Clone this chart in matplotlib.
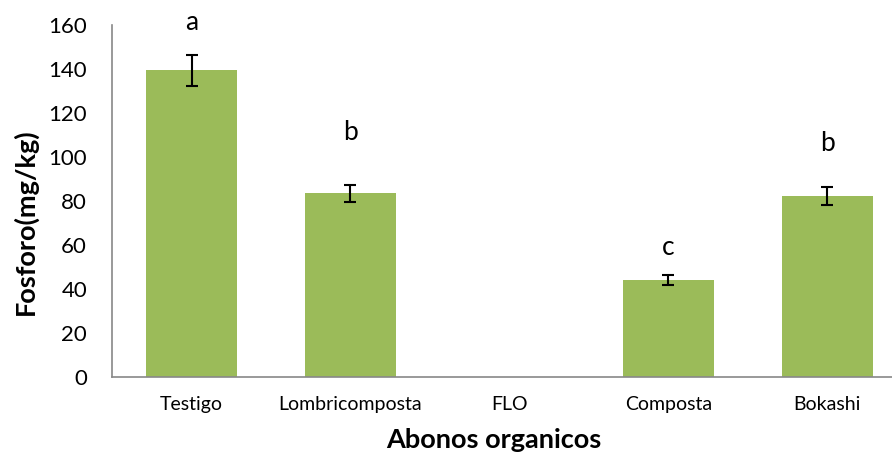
import matplotlib.pyplot as plt

categorias = ['Testigo', 'Lombricomposta', 'FLO', 'Composta', 'Bokashi']
fosforo = [139.5, 83.5, 0, 44.2, 82.3]
error = [7.0, 4.0, 0, 2.2, 4.0]
letras = ['a', 'b', '', 'c', 'b']
altura_letras = [161, 111, 0, 59, 106]

plt.rcParams['font.family'] = ['Lato', 'DejaVu Sans']

fig = plt.figure(figsize=(8.92, 4.55), dpi=100)
ax = fig.add_axes([0.1256, 0.1714, 0.891, 0.7736])

x = range(len(categorias))
ax.bar(x, fosforo, width=0.57, color='#9BBB59')
for i in x:
    if error[i] > 0:
        ax.errorbar(i, fosforo[i], yerr=error[i], fmt='none', ecolor='black',
                    elinewidth=1.5, capsize=4.5, capthick=1.5)
    if letras[i]:
        ax.text(i, altura_letras[i], letras[i], ha='center', va='center', fontsize=19)

ax.set_xlim(-0.5, 4.5)
ax.set_ylim(0, 160)
ax.set_yticks(range(0, 161, 20))
ax.set_xticks(list(x))
ax.set_xticklabels(categorias, fontsize=14)
ax.tick_params(axis='y', labelsize=16, length=0, pad=18)
ax.tick_params(axis='x', length=0, pad=14)

for s in ['top', 'right']:
    ax.spines[s].set_visible(False)
for s in ['left', 'bottom']:
    ax.spines[s].set_color('#888888')
    ax.spines[s].set_linewidth(1.2)

ax.set_ylabel('Fosforo(mg/kg)', fontsize=19.5, fontweight='bold')
ax.yaxis.set_label_coords(-0.109, 0.44)
ax.set_xlabel('Abonos organicos', fontsize=19.5, fontweight='bold')
ax.xaxis.set_label_coords(0.48, -0.179)
ax.xaxis.label.set_va('center')
ax.yaxis.label.set_va('center')

fig.savefig('out.png', dpi=100)
